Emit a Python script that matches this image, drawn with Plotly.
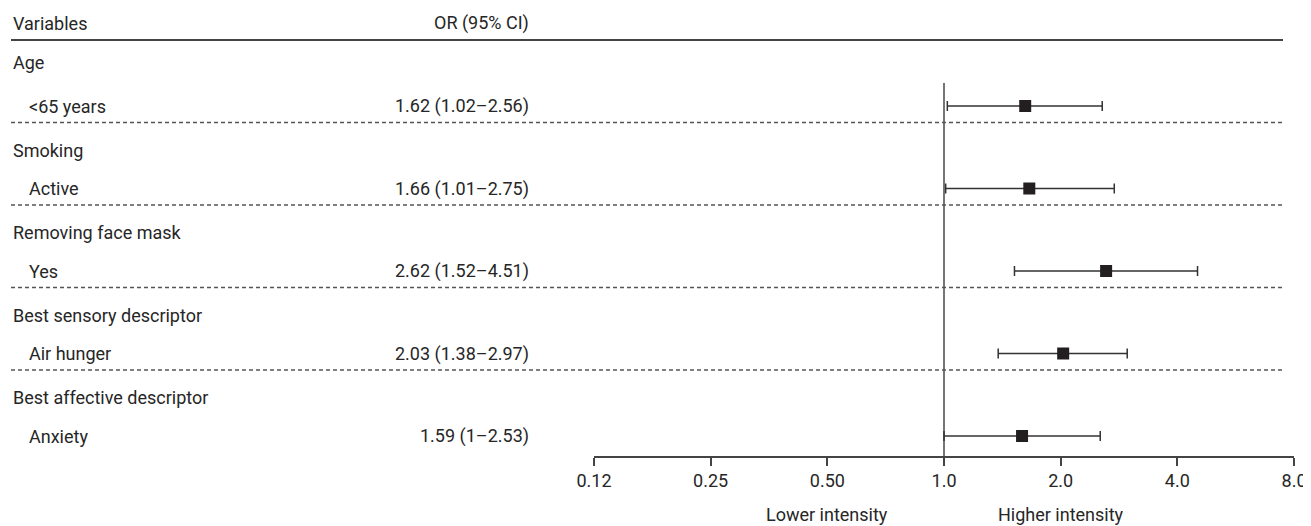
import numpy as np
import plotly.graph_objects as go

# ---- data ----
groups = ["Age", "Smoking", "Removing face mask", "Best sensory descriptor", "Best affective descriptor"]
items = ["<65 years", "Active", "Yes", "Air hunger", "Anxiety"]
or_vals = [1.62, 1.66, 2.62, 2.03, 1.59]
ci_low = [1.02, 1.01, 1.52, 1.38, 1.00]
ci_high = [2.56, 2.75, 4.51, 2.97, 2.53]
tick_vals = [0.125, 0.25, 0.5, 1.0, 2.0, 4.0, 8.0]
tick_text = ["0.12", "0.25", "0.50", "1.0", "2.0", "4.0", "8.0"]
header_left = "Variables"
header_right = "OR (95% CI)"
dir_labels = ["Lower intensity", "Higher intensity"]
dir_pos = [0.5, 2.0]

W, H = 1311, 526
OFF = 8  # page body margin offset (screen px)
FONT = "Roboto, Lato, 'Noto Sans', sans-serif"
TXT = "#262626"
FS = 18

# row geometry (row index units), screen pixel based
row_px0, row_step, axis_px = 106.0, 82.5, 456.0
def px_to_idx(p):
    return (p - row_px0) / row_step
def xp(px):
    return (px - OFF) / W
def yp(py):
    return (H - (py - OFF)) / H

y_bottom = px_to_idx(axis_px)
y_top = px_to_idx(OFF)

idx = np.arange(len(items))
or_text = [f"{o:.2f} ({l:g}\u2013{h:g})" for o, l, h in zip(or_vals, ci_low, ci_high)]

fig = go.Figure()

# reference line at OR = 1
fig.add_trace(go.Scatter(x=[1, 1], y=[px_to_idx(83), y_bottom], mode="lines",
                         line=dict(color="#1a1a1a", width=1.2), hoverinfo="skip", showlegend=False))

# estimates with CI
fig.add_trace(go.Scatter(
    x=or_vals, y=idx, mode="markers",
    marker=dict(symbol="square", size=12, color="#231f20"),
    error_x=dict(type="data", symmetric=False,
                 array=[h - o for h, o in zip(ci_high, or_vals)],
                 arrayminus=[o - l for o, l in zip(or_vals, ci_low)],
                 color="#333333", thickness=1.5, width=5),
    showlegend=False))

annotations = []
def add_text(text, xpx, y, anchor):
    annotations.append(dict(text=text, x=xp(xpx), xref="paper", y=y, yref="y",
                            xanchor=anchor, yanchor="middle", showarrow=False,
                            font=dict(family=FONT, size=FS, color=TXT)))

add_text(header_left, 11, px_to_idx(23), "left")
add_text(header_right, 531, px_to_idx(23), "right")
for i, (g, it, t) in enumerate(zip(groups, items, or_text)):
    off = -0.53 if i == 0 else -0.465
    add_text(g, 11, i + off, "left")
    add_text(it, 27, i, "left")
    add_text(t, 531, i, "right")

for lab, pos in zip(dir_labels, dir_pos):
    annotations.append(dict(text=lab, x=np.log10(pos), xref="x", y=yp(514), yref="paper",
                            xanchor="center", yanchor="middle", showarrow=False,
                            font=dict(family=FONT, size=FS, color=TXT)))

shapes = [dict(type="line", xref="paper", yref="y", x0=xp(11), x1=xp(1283),
               y0=px_to_idx(40), y1=px_to_idx(40), line=dict(color="#444444", width=2))]
for i in range(len(items) - 1):
    shapes.append(dict(type="line", xref="paper", yref="y", x0=xp(11), x1=xp(1283),
                       y0=i + 0.2, y1=i + 0.2,
                       line=dict(color="#555555", width=1.5, dash="4px,3px")))

fig.update_layout(
    width=W, height=H,
    margin=dict(l=0, r=0, t=0, b=0, autoexpand=False),
    paper_bgcolor="white", plot_bgcolor="white",
    font=dict(family=FONT, size=FS, color=TXT),
    xaxis=dict(type="log", range=[np.log10(0.125), np.log10(8)],
               domain=[xp(594), xp(1294)],
               tickvals=tick_vals, ticktext=tick_text,
               ticks="outside", ticklen=8, tickwidth=1.5, tickcolor="#444444",
               showline=True, linecolor="#444444", linewidth=1.5,
               showgrid=False, zeroline=False,
               tickfont=dict(family=FONT, size=FS, color=TXT)),
    yaxis=dict(range=[y_bottom, y_top], domain=[yp(axis_px), 1],
               visible=False, showgrid=False, zeroline=False),
    annotations=annotations, shapes=shapes,
)

fig.write_html("out.html")
